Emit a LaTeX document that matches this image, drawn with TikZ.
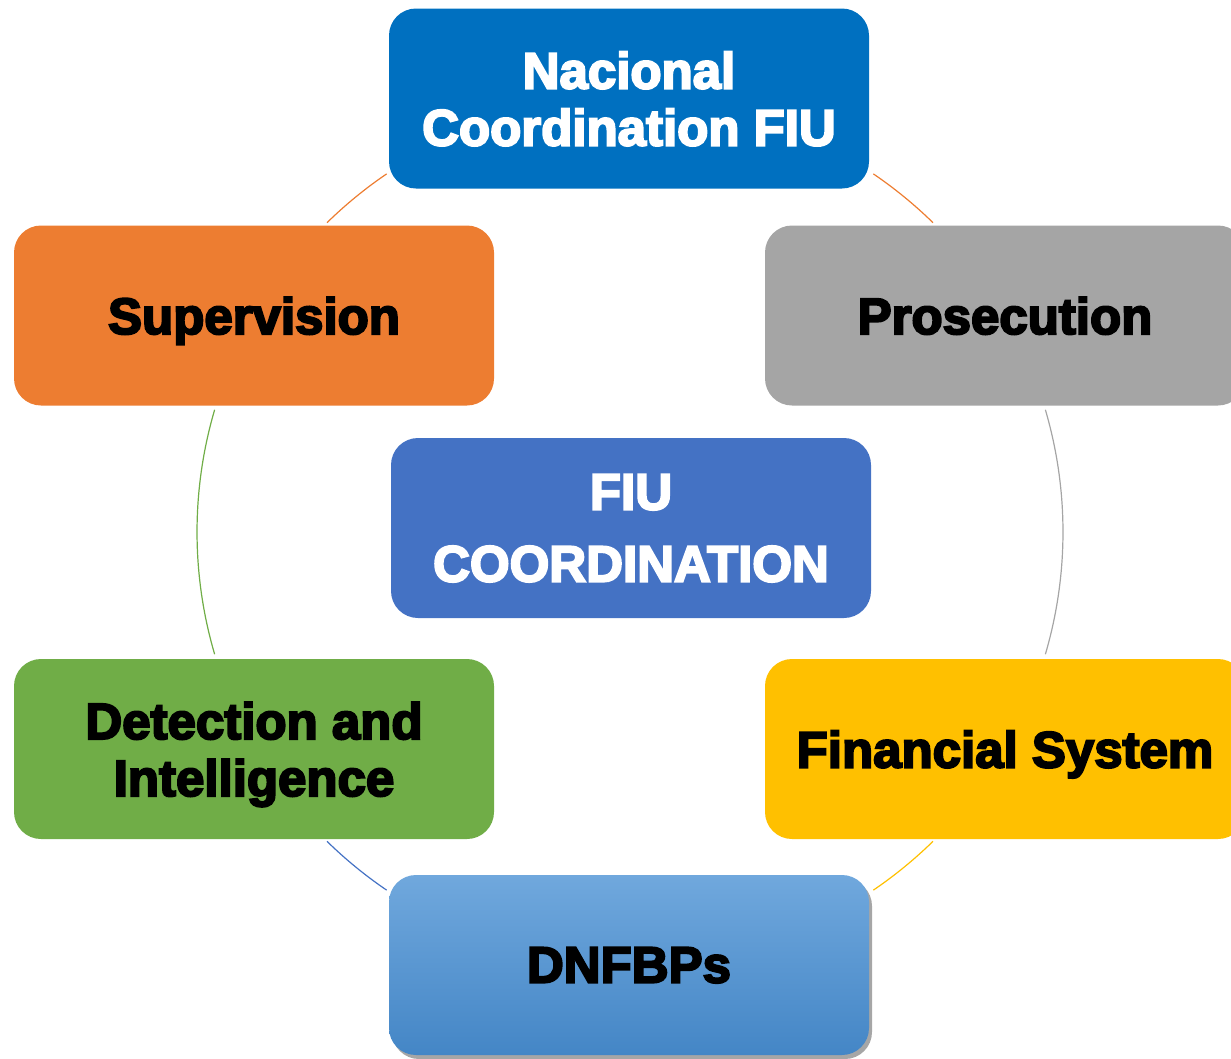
\documentclass[tikz,border=0pt]{standalone}
\usepackage{fontspec}
\setmainfont{Liberation Sans}[BoldFeatures={FakeBold=4}]
\usetikzlibrary{shadows}
\definecolor{cBlueTop}{HTML}{0070C0}
\definecolor{cOrange}{HTML}{ED7D31}
\definecolor{cGray}{HTML}{A5A5A5}
\definecolor{cCenter}{HTML}{4472C4}
\definecolor{cGreen}{HTML}{70AD47}
\definecolor{cYellow}{HTML}{FFC000}
\definecolor{cShadeTop}{HTML}{70A8DD}
\definecolor{cShadeBot}{HTML}{4486C6}
\tikzset{
  box/.style={rounded corners=27pt, minimum width=480pt, minimum height=180pt,
    inner sep=0pt, align=center, text depth=0pt,
    font=\bfseries\fontsize{51}{57}\selectfont},
  ring/.style={line width=1.2pt}
}
\begin{document}
\begin{tikzpicture}[x=1pt,y=-1pt]
\useasboundingbox (0,0) rectangle (1231,1058);
\clip (0,0) rectangle (1231,1058);
\coordinate (c) at (630,532);
% ring arcs (angles negated because the y axis points down)
\draw[ring, cOrange] ([shift={(-124.2:433)}]c) arc[start angle=-124.2, end angle=-134.4, radius=433];
\draw[ring, cOrange] ([shift={(-55.8:433)}]c) arc[start angle=-55.8, end angle=-45.6, radius=433];
\draw[ring, cGray] ([shift={(-16.4:433)}]c) arc[start angle=-16.4, end angle=16.4, radius=433];
\draw[ring, cYellow] ([shift={(45.6:433)}]c) arc[start angle=45.6, end angle=55.8, radius=433];
\draw[ring, cCenter] ([shift={(124.2:433)}]c) arc[start angle=124.2, end angle=134.4, radius=433];
\draw[ring, cGreen] ([shift={(163.6:433)}]c) arc[start angle=163.6, end angle=196.4, radius=433];
% boxes
\node[box, fill=cBlueTop, text=white] (nac) at (629,98.5) {Nacional\\Coordination FIU};
\node[box, fill=cOrange, text=black] (sup) at (254,315.5) {Supervision};
\node[box, fill=cGray, text=black] (pro) at (1005,315.5) {Prosecution};
\node[box, fill=cCenter, text=white] (fiu) at (631,528) {FIU\\[15pt]COORDINATION};
\node[box, fill=cGreen, text=black] (det) at (254,749) {Detection and\\Intelligence};
\node[box, fill=cYellow, text=black] (fin) at (1005,749) {Financial System};
\node[box, top color=cShadeTop, bottom color=cShadeBot, text=black,
  drop shadow={shadow xshift=3pt, shadow yshift=-4pt, opacity=0.35, fill=black}] (dnf) at (629,965) {DNFBPs};
\end{tikzpicture}
\end{document}
